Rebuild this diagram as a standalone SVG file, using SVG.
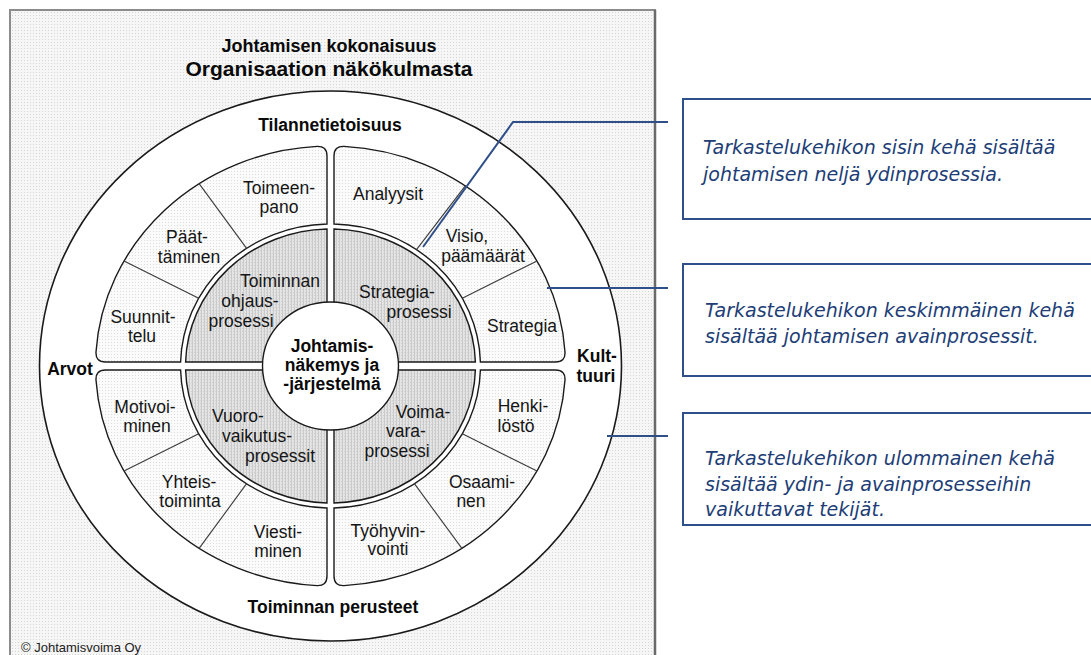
<svg xmlns="http://www.w3.org/2000/svg" width="1091" height="655" viewBox="0 0 1091 655">
  <defs>
    <!-- fine dot screens used by the printed figure -->
    <pattern id="dotsBg" width="3" height="3" patternUnits="userSpaceOnUse">
      <rect width="3" height="3" fill="#f6f6f6"/>
      <rect width="1" height="1" fill="#d6d6d6"/>
    </pattern>
    <pattern id="dotsMid" width="3" height="3" patternUnits="userSpaceOnUse">
      <rect width="3" height="3" fill="#fbfbfb"/>
      <rect width="1" height="1" fill="#dddddd"/>
    </pattern>
    <pattern id="dotsGray" width="3" height="3" patternUnits="userSpaceOnUse">
      <rect width="3" height="3" fill="#e4e4e4"/>
      <rect width="1" height="3" fill="#cacaca"/>
      <rect x="2" y="1" width="1" height="1" fill="#d0d0d0"/>
    </pattern>
    <clipPath id="clipBox3">
      <rect x="683" y="413" width="420" height="109"/>
    </clipPath>
  </defs>
  <style>
    .seg{fill:url(#dotsMid);stroke:#1a1a1a;stroke-width:1.4}
    .core{fill:url(#dotsGray);stroke:#1a1a1a;stroke-width:1.4}
    .div{stroke:#3a3a3a;stroke-width:1.1}
    .lbl{font-family:"Liberation Sans",Arial,Helvetica,sans-serif;font-size:17.5px;fill:#151515;text-anchor:middle}
    .b{font-weight:bold;fill:#0a0a0a}
    .t1{font-size:18px}
    .t2{font-size:21px}
    .note{font-family:"DejaVu Sans","Noto Sans",sans-serif;font-style:italic;font-size:19px;fill:#213d76}
    .box{fill:#ffffff;stroke:#2f4f8a;stroke-width:2}
    .lead{fill:none;stroke:#2f4f8a;stroke-width:2}
  </style>

  <rect width="1091" height="655" fill="#ffffff"/>

  <!-- figure frame -->
  <g id="frame">
    <rect x="10" y="10" width="645" height="700" fill="url(#dotsBg)" stroke="#8c8c8c" stroke-width="2"/>
    <line x1="655" y1="10" x2="655" y2="655" stroke="#6a6a6a" stroke-width="2.5"/>
  </g>

  <!-- titles -->
  <g id="title">
    <text class="lbl b t1" x="329" y="52">Johtamisen kokonaisuus</text>
    <text class="lbl b t2" x="329" y="76">Organisaation näkökulmasta</text>
  </g>

  <!-- outer ring: factors -->
  <g id="outer-ring">
    <ellipse cx="330.5" cy="366" rx="291" ry="275" fill="#ffffff" stroke="#1a1a1a" stroke-width="1.6"/>
    <text class="lbl b" x="330" y="131">Tilannetietoisuus</text>
    <text class="lbl b" x="70" y="375">Arvot</text>
    <text class="lbl b" x="597" y="362">Kult-</text>
    <text class="lbl b" x="596" y="382">tuuri</text>
    <text class="lbl b" x="333" y="613">Toiminnan perusteet</text>
  </g>

  <!-- middle ring: key processes, top-left quadrant -->
  <g id="key-ohjaus">
    <path class="seg" d="M327,224 L327,156 Q327,146 317,146.4 A235,220 0 0 0 96,352 Q95.5,362 105.5,362 L180.6,362 A150,142 0 0 1 327,224 Z"/>
    <line class="div" x1="199.1" y1="183.6" x2="246.6" y2="248.3"/>
    <line class="div" x1="124" y1="261" x2="198.7" y2="298.2"/>
    <g id="seg-toimeenpano"><text class="lbl" x="279" y="194">Toimeen-</text><text class="lbl" x="279" y="213">pano</text></g>
    <g id="seg-paattaminen"><text class="lbl" x="187" y="243">Päät-</text><text class="lbl" x="189" y="263">täminen</text></g>
    <g id="seg-suunnittelu"><text class="lbl" x="143" y="323">Suunnit-</text><text class="lbl" x="142" y="342">telu</text></g>
  </g>

  <!-- top-right quadrant -->
  <g id="key-strategia">
    <path class="seg" d="M334,224 L334,156 Q334,146 344,146.4 A235,220 0 0 1 565,352 Q565.5,362 555.5,362 L480.4,362 A150,142 0 0 0 334,224 Z"/>
    <line class="div" x1="465.3" y1="185.8" x2="416.5" y2="249.7"/>
    <line class="div" x1="537" y1="261" x2="462.3" y2="298.2"/>
    <g id="seg-analyysit"><text class="lbl" x="388" y="200">Analyysit</text></g>
    <g id="seg-visio"><text class="lbl" x="467" y="242">Visio,</text><text class="lbl" x="483" y="262">päämäärät</text></g>
    <g id="seg-strategia"><text class="lbl" x="522" y="332">Strategia</text></g>
  </g>

  <!-- bottom-left quadrant -->
  <g id="key-vuorovaikutus">
    <path class="seg" d="M327,508 L327,576 Q327,586 317,585.6 A235,220 0 0 1 96,380 Q95.5,370 105.5,370 L180.6,370 A150,142 0 0 0 327,508 Z"/>
    <line class="div" x1="124" y1="471" x2="198.7" y2="433.8"/>
    <line class="div" x1="199.1" y1="548.4" x2="246.6" y2="483.7"/>
    <g id="seg-motivointi"><text class="lbl" x="145" y="413">Motivoi-</text><text class="lbl" x="147" y="432">minen</text></g>
    <g id="seg-yhteistoiminta"><text class="lbl" x="189" y="488">Yhteis-</text><text class="lbl" x="190" y="507">toiminta</text></g>
    <g id="seg-viestiminen"><text class="lbl" x="278" y="538">Viesti-</text><text class="lbl" x="278" y="557">minen</text></g>
  </g>

  <!-- bottom-right quadrant -->
  <g id="key-voimavara">
    <path class="seg" d="M334,508 L334,576 Q334,586 344,585.6 A235,220 0 0 0 565,380 Q565.5,370 555.5,370 L480.4,370 A150,142 0 0 1 334,508 Z"/>
    <line class="div" x1="537" y1="471" x2="462.3" y2="433.8"/>
    <line class="div" x1="461.9" y1="548.4" x2="414.4" y2="483.7"/>
    <g id="seg-henkilosto"><text class="lbl" x="523" y="412">Henki-</text><text class="lbl" x="516" y="432">löstö</text></g>
    <g id="seg-osaaminen"><text class="lbl" x="482" y="488">Osaami-</text><text class="lbl" x="471" y="507">nen</text></g>
    <g id="seg-tyohyvinvointi"><text class="lbl" x="388" y="537">Työhyvin-</text><text class="lbl" x="388" y="555">vointi</text></g>
  </g>

  <!-- inner ring: core processes -->
  <g id="core-ohjaus">
    <path class="core" d="M327,362 L327,229 A145,137 0 0 0 185.6,362 Z"/>
    <text class="lbl" x="280" y="287">Toiminnan</text>
    <text class="lbl" x="250" y="307">ohjaus-</text>
    <text class="lbl" x="241" y="327">prosessi</text>
  </g>
  <g id="core-strategia">
    <path class="core" d="M334,362 L334,229 A145,137 0 0 1 475.4,362 Z"/>
    <text class="lbl" x="397" y="298">Strategia-</text>
    <text class="lbl" x="419" y="318">prosessi</text>
  </g>
  <g id="core-vuorovaikutus">
    <path class="core" d="M327,370 L327,503 A145,137 0 0 1 185.6,370 Z"/>
    <text class="lbl" x="238" y="422">Vuoro-</text>
    <text class="lbl" x="257" y="442">vaikutus-</text>
    <text class="lbl" x="280" y="462">prosessit</text>
  </g>
  <g id="core-voimavara">
    <path class="core" d="M334,370 L334,503 A145,137 0 0 0 475.4,370 Z"/>
    <text class="lbl" x="423" y="418">Voima-</text>
    <text class="lbl" x="406" y="437">vara-</text>
    <text class="lbl" x="397" y="457">prosessi</text>
  </g>

  <!-- hub -->
  <g id="hub">
    <ellipse cx="330.5" cy="366" rx="68" ry="64" fill="#ffffff" stroke="#1a1a1a" stroke-width="1.4"/>
    <text class="lbl b" x="332" y="352">Johtamis-</text>
    <text class="lbl b" x="332" y="371">näkemys ja</text>
    <text class="lbl b" x="332" y="390">-järjestelmä</text>
  </g>

  <text id="copyright" x="21" y="652" font-family="Liberation Sans, Arial, sans-serif" font-size="13" fill="#222">© Johtamisvoima Oy</text>

  <!-- explanation boxes -->
  <g id="note-inner">
    <rect class="box" x="683" y="99" width="430" height="120"/>
    <text class="note" x="703" y="154">Tarkastelukehikon sisin kehä sisältää</text>
    <text class="note" x="703" y="181">johtamisen neljä ydinprosessia.</text>
  </g>
  <g id="note-middle">
    <rect class="box" x="683" y="264" width="430" height="112"/>
    <text class="note" x="705" y="317">Tarkastelukehikon keskimmäinen kehä</text>
    <text class="note" x="705" y="343">sisältää johtamisen avainprosessit.</text>
  </g>
  <g id="note-outer">
    <rect class="box" x="683" y="413" width="430" height="112"/>
    <g clip-path="url(#clipBox3)">
      <text class="note" x="705" y="465">Tarkastelukehikon ulommainen kehä</text>
      <text class="note" x="705" y="490.5">sisältää ydin- ja avainprosesseihin</text>
      <text class="note" x="705" y="516">vaikuttavat tekijät.</text>
    </g>
  </g>

  <!-- leader lines from boxes into the rings -->
  <g id="connectors">
    <polyline class="lead" points="423,247 513,122 668,122"/>
    <line class="lead" x1="547" y1="288" x2="668" y2="288"/>
    <line class="lead" x1="607" y1="436" x2="668" y2="436"/>
  </g>
</svg>
